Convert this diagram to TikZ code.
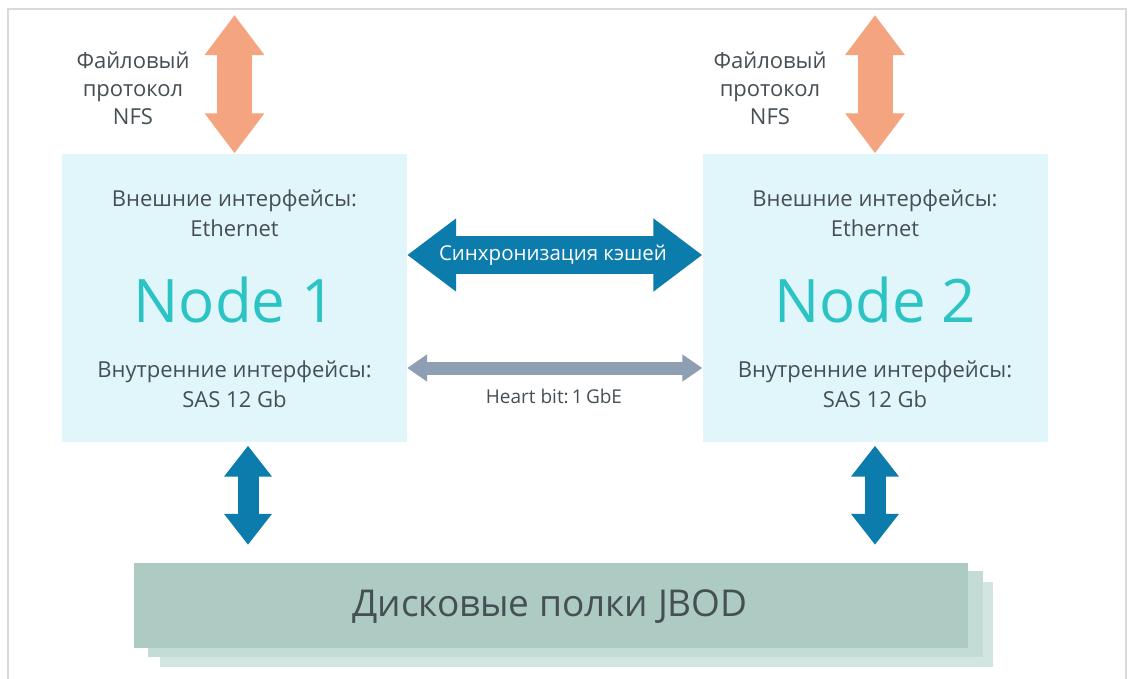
\documentclass[tikz,border=0pt]{standalone}
\usepackage{fontspec}
\setmainfont{Open Sans}
\usetikzlibrary{arrows.meta}
\definecolor{nodebg}{HTML}{E1F6FA}
\definecolor{orangearr}{HTML}{F4A47E}
\definecolor{syncblue}{HTML}{0C7CAC}
\definecolor{hbgrey}{HTML}{8E9FB3}
\definecolor{nodeteal}{HTML}{2CC3C5}
\definecolor{txtgrey}{HTML}{454F54}
\definecolor{jbodA}{HTML}{ADCBC3}
\definecolor{jbodB}{HTML}{C4DCD6}
\definecolor{jbodC}{HTML}{D3E5E0}
\definecolor{framegrey}{HTML}{D9D9D9}
\tikzset{
  nodebox/.style={fill=nodebg, draw=none, minimum width=345pt, minimum height=288pt, inner sep=0pt},
  smalltext/.style={text=txtgrey, align=center, font=\fontsize{22}{30}\selectfont, inner sep=0pt},
  bigtext/.style={text=nodeteal, font=\fontsize{60}{66}\selectfont, inner sep=0pt},
  nfstext/.style={text=txtgrey, align=center, font=\fontsize{22}{28}\selectfont, inner sep=0pt},
  orangeconn/.style={draw=orangearr, line width=35pt,
    {Triangle[length=40pt,width=57pt]}-{Triangle[length=40pt,width=57pt]}},
  syncconn/.style={draw=syncblue, line width=38pt,
    {Triangle[length=49pt,width=70pt]}-{Triangle[length=49pt,width=70pt]}},
  hbconn/.style={draw=hbgrey, line width=13pt,
    {Triangle[length=20pt,width=26pt]}-{Triangle[length=20pt,width=26pt]}},
  diskconn/.style={draw=syncblue, line width=21pt,
    {Triangle[length=31pt,width=46pt]}-{Triangle[length=31pt,width=46pt]}},
  jbodbox/.style={draw=none, inner sep=0pt},
}
\begin{document}
\begin{tikzpicture}[x=1pt,y=-1pt]
\useasboundingbox (0,0) rectangle (1128,678);
\fill[white] (0,0) rectangle (1128,678);
\draw[framegrey, line width=2pt] (8,690) -- (8,9) -- (1126,9) -- (1126,690);

% node boxes
\node[nodebox] (n1) at (234.5,297.5) {};
\node[nodebox] (n2) at (875,297.5) {};

% node texts
\node[smalltext] (n1ext) at (234.5,213) {Внешние интерфейсы:\\Ethernet};
\node[bigtext] (n1title) at (234.5,300) {Node 1};
\node[smalltext] (n1int) at (234.5,384) {Внутренние интерфейсы:\\SAS 12 Gb};
\node[smalltext] (n2ext) at (875,213) {Внешние интерфейсы:\\Ethernet};
\node[bigtext] (n2title) at (875,300) {Node 2};
\node[smalltext] (n2int) at (875,384) {Внутренние интерфейсы:\\SAS 12 Gb};

% NFS labels and arrows
\node[nfstext] (nfs1) at (133,88) {Файловый\\протокол\\NFS};
\node[nfstext] (nfs2) at (770,88) {Файловый\\протокол\\NFS};
\coordinate (top1) at (234.5,15);
\coordinate (top2) at (875,15);
\draw[orangeconn] (top1) -- (n1.north);
\draw[orangeconn] (top2) -- (n2.north);

% sync arrow
\draw[syncconn] (n1.east |- 0,255) -- (n2.west |- 0,255);
\node[text=white, font=\fontsize{20.5}{24}\selectfont, inner sep=0pt] (synctext) at (553,255) {Синхронизация кэшей};

% heart bit
\draw[hbconn] (n1.east |- 0,368) -- (n2.west |- 0,368);
\node[text=txtgrey, font=\fontsize{19}{22}\selectfont, inner sep=0pt] (hbtext) at (554,396) {Heart bit:\,1\,GbE};

% JBOD
\fill[jbodC] (160,582) rectangle (993,667);
\fill[jbodB] (148,571) rectangle (983,657);
\node[jbodbox, fill=jbodA, minimum width=834pt, minimum height=85pt] (jbod) at (551,605.5) {};
\node[text=txtgrey, font=\fontsize{37}{42}\selectfont, inner sep=0pt] (jbodtext) at (550,607) {Дисковые полки JBOD};

% disk arrows
\draw[diskconn, shorten <=4pt, shorten >=18pt] (n1.south -| 248,0) -- (jbod.north -| 248,0);
\draw[diskconn, shorten <=4pt, shorten >=18pt] (n2.south -| 875,0) -- (jbod.north -| 875,0);
\end{tikzpicture}
\end{document}
